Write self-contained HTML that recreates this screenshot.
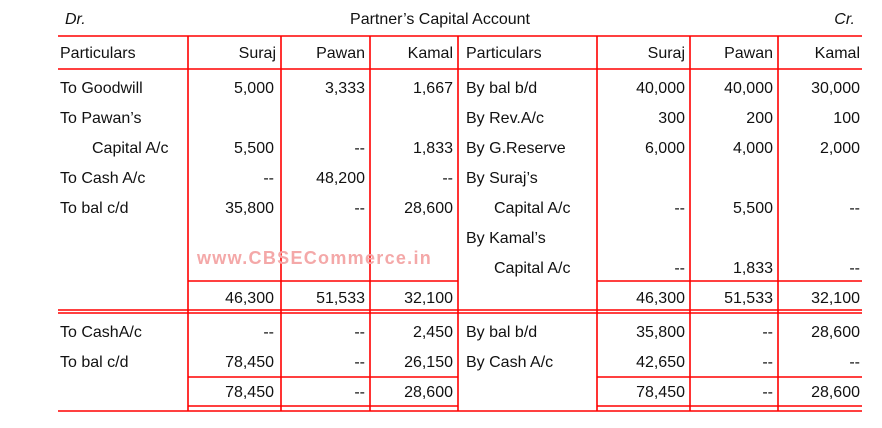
<!DOCTYPE html>
<html><head><meta charset="utf-8"><style>
html,body{margin:0;padding:0;background:#fff;}
svg text{font-family:"Liberation Sans",sans-serif;font-size:16px;fill:#111;}
.r{text-anchor:end;}
</style></head><body>
<svg width="882" height="423" xmlns="http://www.w3.org/2000/svg">
<g stroke="#f00" stroke-width="1.6" fill="none">
<line x1="58" y1="36" x2="862" y2="36"/>
<line x1="58" y1="69" x2="862" y2="69"/>
<line x1="58" y1="411" x2="862" y2="411"/>
<line x1="188" y1="36" x2="188" y2="411"/>
<line x1="281" y1="36" x2="281" y2="411"/>
<line x1="370" y1="36" x2="370" y2="411"/>
<line x1="458" y1="36" x2="458" y2="411"/>
<line x1="597" y1="36" x2="597" y2="411"/>
<line x1="690" y1="36" x2="690" y2="411"/>
<line x1="778" y1="36" x2="778" y2="411"/>
<line x1="188" y1="281" x2="458" y2="281"/>
<line x1="597" y1="281" x2="862" y2="281"/>
<line x1="58" y1="310" x2="862" y2="310"/>
<line x1="58" y1="313" x2="862" y2="313"/>
<line x1="188" y1="377" x2="458" y2="377"/>
<line x1="597" y1="377" x2="862" y2="377"/>
<line x1="188" y1="406" x2="458" y2="406"/>
<line x1="597" y1="406" x2="862" y2="406"/>
</g>
<text x="65" y="24" font-style="italic">Dr.</text>
<text x="440" y="24" text-anchor="middle">Partner’s Capital Account</text>
<text x="855" y="24" class="r" font-style="italic">Cr.</text>
<text x="60" y="58">Particulars</text>
<text x="276" y="58" class="r">Suraj</text>
<text x="365" y="58" class="r">Pawan</text>
<text x="453" y="58" class="r">Kamal</text>
<text x="466" y="58">Particulars</text>
<text x="685" y="58" class="r">Suraj</text>
<text x="773" y="58" class="r">Pawan</text>
<text x="860" y="58" class="r">Kamal</text>
<g>
<text x="60" y="93">To  Goodwill</text><text x="274" y="93" class="r">5,000</text><text x="365" y="93" class="r">3,333</text><text x="453" y="93" class="r">1,667</text>
<text x="466" y="93">By bal b/d</text><text x="685" y="93" class="r">40,000</text><text x="773" y="93" class="r">40,000</text><text x="860" y="93" class="r">30,000</text>
<text x="60" y="123">To  Pawan’s</text>
<text x="466" y="123">By Rev.A/c</text><text x="685" y="123" class="r">300</text><text x="773" y="123" class="r">200</text><text x="860" y="123" class="r">100</text>
<text x="92" y="153">Capital A/c</text><text x="274" y="153" class="r">5,500</text><text x="365" y="153" class="r">--</text><text x="453" y="153" class="r">1,833</text>
<text x="466" y="153">By G.Reserve</text><text x="685" y="153" class="r">6,000</text><text x="773" y="153" class="r">4,000</text><text x="860" y="153" class="r">2,000</text>
<text x="60" y="183">To  Cash A/c</text><text x="274" y="183" class="r">--</text><text x="365" y="183" class="r">48,200</text><text x="453" y="183" class="r">--</text>
<text x="466" y="183">By Suraj’s</text>
<text x="60" y="213">To  bal c/d</text><text x="274" y="213" class="r">35,800</text><text x="365" y="213" class="r">--</text><text x="453" y="213" class="r">28,600</text>
<text x="494" y="213">Capital A/c</text><text x="685" y="213" class="r">--</text><text x="773" y="213" class="r">5,500</text><text x="860" y="213" class="r">--</text>
<text x="466" y="243">By Kamal’s</text>
<text x="197" y="264" font-weight="bold" style="fill:#f4a8a8;font-size:18px;letter-spacing:1.3px">www.CBSECommerce.in</text>
<text x="494" y="273">Capital A/c</text><text x="685" y="273" class="r">--</text><text x="773" y="273" class="r">1,833</text><text x="860" y="273" class="r">--</text>
<text x="274" y="303" class="r">46,300</text><text x="365" y="303" class="r">51,533</text><text x="453" y="303" class="r">32,100</text>
<text x="685" y="303" class="r">46,300</text><text x="773" y="303" class="r">51,533</text><text x="860" y="303" class="r">32,100</text>
<text x="60" y="337">To CashA/c</text><text x="274" y="337" class="r">--</text><text x="365" y="337" class="r">--</text><text x="453" y="337" class="r">2,450</text>
<text x="466" y="337">By bal b/d</text><text x="685" y="337" class="r">35,800</text><text x="773" y="337" class="r">--</text><text x="860" y="337" class="r">28,600</text>
<text x="60" y="367">To bal c/d</text><text x="274" y="367" class="r">78,450</text><text x="365" y="367" class="r">--</text><text x="453" y="367" class="r">26,150</text>
<text x="466" y="367">By Cash A/c</text><text x="685" y="367" class="r">42,650</text><text x="773" y="367" class="r">--</text><text x="860" y="367" class="r">--</text>
<text x="274" y="397" class="r">78,450</text><text x="365" y="397" class="r">--</text><text x="453" y="397" class="r">28,600</text>
<text x="685" y="397" class="r">78,450</text><text x="773" y="397" class="r">--</text><text x="860" y="397" class="r">28,600</text>
</g>
</svg>
</body></html>
